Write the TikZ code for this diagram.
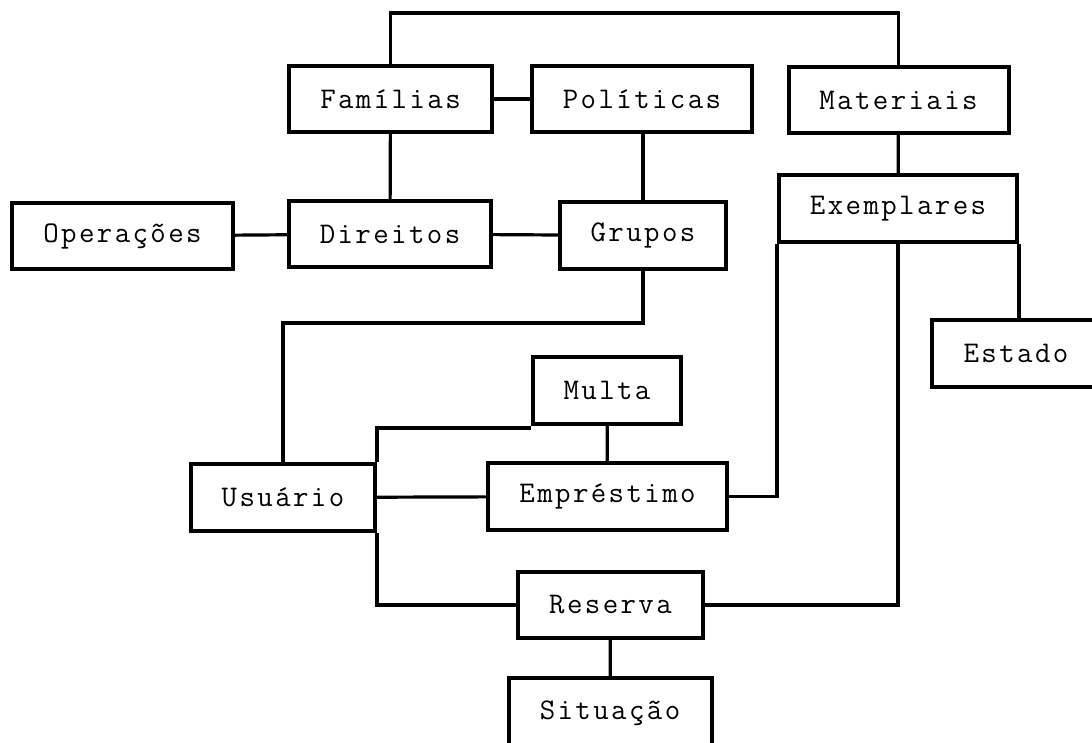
\documentclass[tikz,border=0pt]{standalone}
\usepackage{fontspec}
\usepackage{tikz}
\newfontfamily\tblfont{Latin Modern Mono}[LetterSpace=8]

\begin{document}
\begin{tikzpicture}[x=1pt,y=-1pt,line width=3.2pt,
    tbl/.style={draw,rectangle,line width=4pt,minimum height=66pt,inner sep=0pt,
      font=\tblfont\fontsize{30}{36}\selectfont}]
  \useasboundingbox (0,0) rectangle (1092,743);

  % tabelas
  \node[tbl,minimum width=203pt] (fam) at (390.5,99) {Famílias};
  \node[tbl,minimum width=220pt] (pol) at (642,99) {Políticas};
  \node[tbl,minimum width=220pt] (mat) at (898.5,100) {Materiais};
  \node[tbl,minimum width=221pt] (ope) at (122.5,236) {Operações};
  \node[tbl,minimum width=202pt] (dir) at (390,234) {Direitos};
  \node[tbl,minimum width=166pt,minimum height=67pt] (gru) at (643,235.5) {Grupos};
  \node[tbl,minimum width=238pt,minimum height=67pt] (exe) at (898,208.5) {Exemplares};
  \node[tbl,minimum width=168pt,minimum height=67pt] (est) at (1016,353.5) {Estado};
  \node[tbl,minimum width=148pt,minimum height=67pt] (mul) at (607,390.5) {Multa};
  \node[tbl,minimum width=184pt,minimum height=67pt] (usu) at (283,497.5) {Usuário};
  \node[tbl,minimum width=239pt,minimum height=67pt] (emp) at (607.5,496.5) {Empréstimo};
  \node[tbl,minimum width=185pt] (res) at (610.5,605) {Reserva};
  \node[tbl,minimum width=203pt,minimum height=70pt] (sit) at (610,713) {Situação};

  % ligacoes
  \coordinate (topo) at (0,13);
  \draw (fam.north) -- (fam.north |- topo) -| (mat.north);
  \path (fam) edge (pol)
        (fam) edge (dir)
        (ope) edge (dir)
        (dir) edge (gru)
        (gru.north) edge (gru.north |- pol.south)
        (mat) edge (exe)
        (exe.south east) edge (exe.south east |- est.north)
        (usu) edge (emp)
        (mul) edge (emp)
        (res) edge (sit);
  \draw (gru.south) -- ++(0,52) -| (usu.north);
  \draw ([yshift=-2pt]mul.south west) -| (usu.north east);
  \draw (usu.south east) |- (res.west);
  \draw (emp.east) -| (exe.south west);
  \draw (res.east) -| (exe.south);
\end{tikzpicture}
\end{document}
